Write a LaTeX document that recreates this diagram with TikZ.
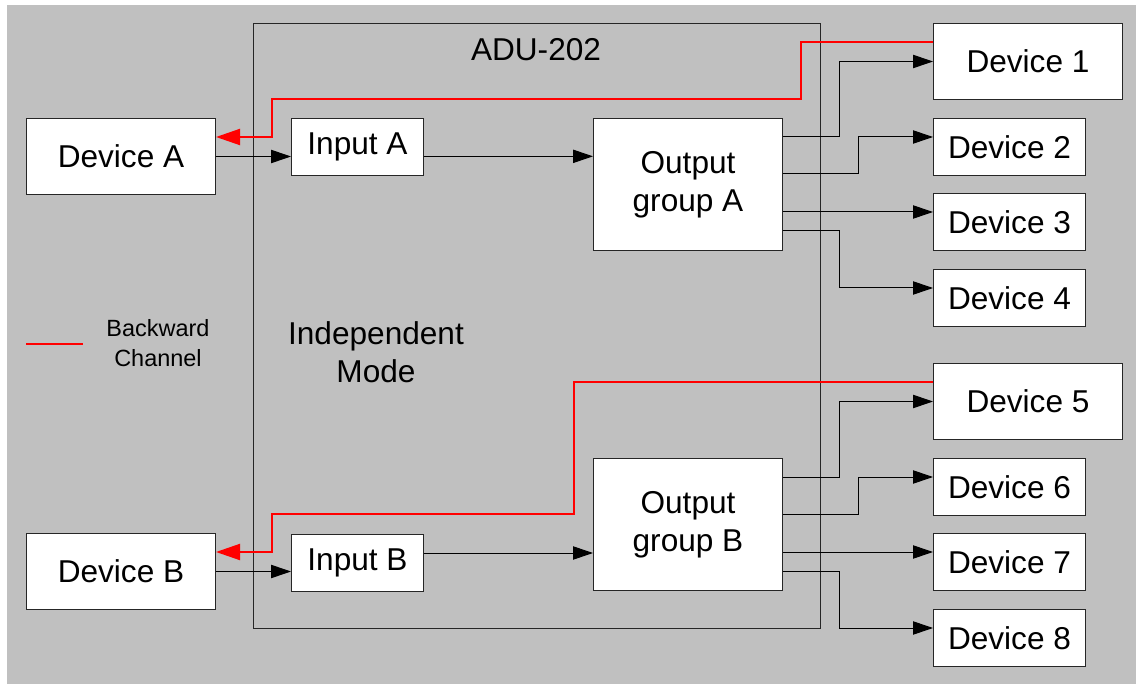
\documentclass[tikz,border=0pt]{standalone}
\usepackage{fontspec}
\setmainfont{Liberation Sans}
\usetikzlibrary{positioning,arrows.meta,calc}
\definecolor{bggray}{RGB}{192,192,192}
\tikzstyle{devbox} = [rectangle, draw=black!85, fill=white, line width=0.75pt, %
   text centered, inner sep=0pt, anchor=north west, font=\fontsize{23.7}{28.5}\selectfont]
\tikzstyle{bigdev} = [devbox, minimum width=141.75pt, minimum height=57pt]
\tikzstyle{smalldev} = [devbox, minimum width=114pt, minimum height=42.75pt]
\tikzstyle{inbox} = [devbox, minimum width=99pt, minimum height=42.75pt]
\tikzstyle{outbox} = [devbox, minimum width=141.75pt, minimum height=99pt, align=center]
\tikzstyle{label} = [font=\fontsize{23.7}{28.5}\selectfont, align=center]
\tikzstyle{line} = [draw, line width=0.75pt, -{Triangle[length=15pt,width=10pt]}]
\tikzstyle{back} = [draw, red, line width=1.5pt, -{Triangle[length=18pt,width=12pt]}]

\begin{document}
\begin{tikzpicture}[x=0.75pt,y=-0.75pt]
   \useasboundingbox (0,0) rectangle (1136,684);
   \fill[bggray] (7,5) rectangle (1136,684);

   % ADU FRAME %%%%%%%%%%%%%%%%%%%%%%%%%%%%%%%%%%%%%%%%%%%%%%%%%%%%%
   \node[draw=black!85, line width=0.75pt, inner sep=0pt, anchor=north west, %
      minimum width=425.25pt, minimum height=453.75pt](adu) at (253,23){};
   \node[label](title) at (536,50){ADU-202};
   \node[label](mode) at (376,352){Independent\\Mode};

   % Legend
   \draw[red, line width=1.5pt] (26,344) -- (83,344);
   \node[font=\fontsize{17.6}{22.5}\selectfont, align=center](legend) at (158,343){%
      Backward\\Channel};

   % Place nodes
   \node[bigdev](devA) at (26,118){Device A};
   \node[bigdev](devB) at (26,533){Device B};

   \node[inbox](inA) at (291,118){Input A};
   \node[inbox](inB) at (291,534){Input B};

   \node[outbox](outA) at (593,118){Output\\group A};
   \node[outbox](outB) at (593,458){Output\\group B};

   \node[bigdev](dev1) at (933,23){Device 1};
   \node[smalldev](dev2) at (933,118){Device 2};
   \node[smalldev](dev3) at (933,193){Device 3};
   \node[smalldev](dev4) at (933,269){Device 4};
   \node[bigdev](dev5) at (933,363){Device 5};
   \node[smalldev](dev6) at (933,458){Device 6};
   \node[smalldev](dev7) at (933,533){Device 7};
   \node[smalldev](dev8) at (933,609){Device 8};

   % Draw edges
   % Group A
   \path [line] (devA.east) -- (devA.east -| inA.west);
   \path [line] ([yshift=-7pt]inA.east) -- ([yshift=-7pt]inA.east -| outA.west);
   \path [line] ([yshift=-14.25pt]outA.north east) -- ++(42pt,0) |- (dev1.west);
   \path [line] ([yshift=-42pt]outA.north east) -- ++(56.25pt,0) |- ([yshift=-14.25pt]dev2.north west);
   \path [line] ([yshift=-70.5pt]outA.north east) -- ([yshift=-14.25pt]dev3.north west);
   \path [line] ([yshift=-84.75pt]outA.north east) -- ++(42pt,0) |- ([yshift=-14.25pt]dev4.north west);

   % Group B
   \path [line] (devB.east) -- (devB.east -| inB.west);
   \path [line] ([yshift=-14.25pt]inB.north east) -- ([yshift=-14.25pt]inB.north east -| outB.west);
   \path [line] ([yshift=-14.25pt]outB.north east) -- ++(42pt,0) |- (dev5.west);
   \path [line] ([yshift=-42pt]outB.north east) -- ++(56.25pt,0) |- ([yshift=-14.25pt]dev6.north west);
   \path [line] ([yshift=-70.5pt]outB.north east) -- ([yshift=-14.25pt]dev7.north west);
   \path [line] ([yshift=-84.75pt]outB.north east) -- ++(42pt,0) |- ([yshift=-14.25pt]dev8.north west);

   % Backward channels
   \coordinate (bendA1) at (801,99);
   \coordinate (bendA2) at (272,137);
   \coordinate (bendB1) at (574,514);
   \coordinate (bendB2) at (272,552);
   \path [back] ([yshift=-14.25pt]dev1.north west) -| (bendA1) -| (bendA2) -- ([yshift=-14.25pt]devA.north east);
   \path [back] ([yshift=-14.25pt]dev5.north west) -| (bendB1) -| (bendB2) -- ([yshift=-14.25pt]devB.north east);

\end{tikzpicture}
\end{document}
